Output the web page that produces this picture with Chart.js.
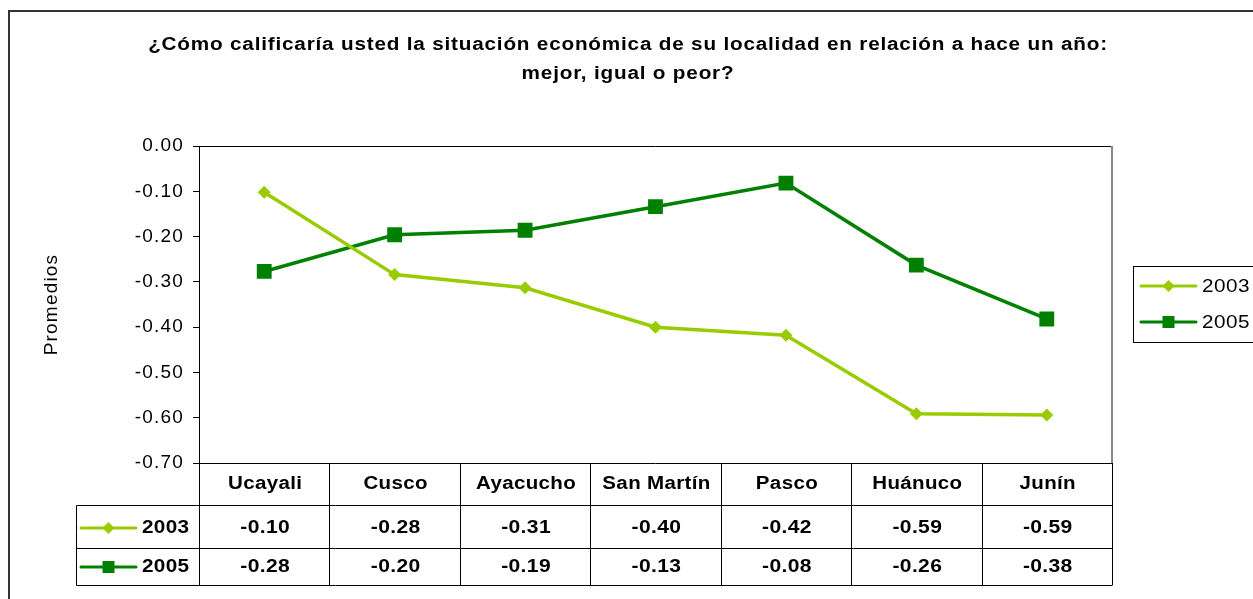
<!DOCTYPE html>
<html>
<head>
<meta charset="utf-8">
<script src="https://cdn.jsdelivr.net/npm/chart.js@4"></script>
<style>
  html, body { margin: 0; padding: 0; background: #fff; }
  #wrap { width: 1253px; height: 599px; }
</style>
</head>
<body>
<div id="wrap"><canvas id="lineCanvas" width="1253" height="599"></canvas></div>
<script>
// data
const regiones = ["Ucayali", "Cusco", "Ayacucho", "San Martín", "Pasco", "Huánuco", "Junín"];
const serie2003 = [-0.102, -0.284, -0.313, -0.400, -0.418, -0.591, -0.594];
const serie2005 = [-0.277, -0.196, -0.186, -0.134, -0.082, -0.263, -0.382];
const yTicks = [0, -0.1, -0.2, -0.3, -0.4, -0.5, -0.6, -0.7];

const verdeClaro = "#99CC00";
const verdeOscuro = "#008000";
const fuente = "'Liberation Sans', Arial, sans-serif";

// text a bit wider than the font, like the original rendering
function wideText(c, t, x, y, sx) {
    c.save();
    c.translate(x, y);
    c.scale(sx, 1);
    c.fillText(t, 0, 0);
    c.restore();
}

function sampleLine(c, x1, x2, y, color, marker) {
    c.save();
    c.strokeStyle = color;
    c.fillStyle = color;
    c.lineWidth = 3;
    c.lineCap = "round";
    c.beginPath(); c.moveTo(x1, y); c.lineTo(x2, y); c.stroke();
    const mx = (x1 + x2) / 2;
    if (marker === "diamond") {
        c.beginPath();
        c.moveTo(mx, y - 6); c.lineTo(mx + 6, y); c.lineTo(mx, y + 6); c.lineTo(mx - 6, y);
        c.closePath(); c.fill();
    } else {
        c.fillRect(mx - 6, y - 6, 12, 12);
    }
    c.restore();
}

const extras = {
    id: "extras",
    beforeDraw(chart) {
        const c = chart.ctx;
        c.save();
        c.fillStyle = "#fff";
        c.fillRect(0, 0, chart.width, chart.height);
        // outer frame
        c.strokeStyle = "#333";
        c.lineWidth = 2;
        c.beginPath(); c.moveTo(9, 599); c.lineTo(9, 11); c.lineTo(1253, 11); c.stroke();
        // title
        c.fillStyle = "#000";
        c.font = "bold 18px " + fuente;
        c.letterSpacing = "0.7px";
        c.textAlign = "center";
        c.textBaseline = "middle";
        wideText(c, "¿Cómo calificaría usted la situación económica de su localidad en relación a hace un año:", 628, 45, 1.15);
        wideText(c, "mejor, igual o peor?", 628, 74, 1.15);
        c.restore();
        // wider spacing for the axis text as well
        c.letterSpacing = "1.2px";
    },
    afterDraw(chart) {
        const c = chart.ctx;
        const a = chart.chartArea;
        const xs = chart.scales.x;
        const step = (a.right - a.left) / regiones.length;
        c.save();
        // plot frame
        c.lineWidth = 1;
        c.strokeStyle = "#000";
        c.beginPath(); c.moveTo(a.left, a.top + 0.5); c.lineTo(a.right, a.top + 0.5); c.stroke();
        c.strokeStyle = "#888";
        c.lineWidth = 2;
        c.beginPath(); c.moveTo(a.right, a.top); c.lineTo(a.right, a.bottom); c.stroke();

        // data table
        const rows = [a.bottom, 505.5, 548.5, 585.5];
        const tLeft = 76.5;
        c.strokeStyle = "#000";
        c.lineWidth = 1;
        c.beginPath();
        c.moveTo(a.left, rows[0] + 0.5); c.lineTo(a.right, rows[0] + 0.5);
        c.moveTo(tLeft, rows[1]); c.lineTo(a.right, rows[1]);
        c.moveTo(tLeft, rows[2]); c.lineTo(a.right, rows[2]);
        c.moveTo(tLeft, rows[3]); c.lineTo(a.right, rows[3]);
        c.moveTo(tLeft, rows[1]); c.lineTo(tLeft, rows[3]);
        for (let i = 0; i <= regiones.length; i++) {
            const x = Math.round(a.left + i * step) + 0.5;
            c.moveTo(x, rows[0]); c.lineTo(x, rows[3]);
        }
        c.stroke();

        c.fillStyle = "#000";
        c.font = "bold 18px " + fuente;
        c.letterSpacing = "0.3px";
        c.textAlign = "center";
        c.textBaseline = "middle";
        regiones.forEach(function (r, i) {
            const x = xs.getPixelForValue(i) + 1;
            wideText(c, r, x, 484, 1.14);
            wideText(c, serie2003[i].toFixed(2), x, 528, 1.17);
            wideText(c, serie2005[i].toFixed(2), x, 567, 1.17);
        });
        c.textAlign = "left";
        wideText(c, "2003", 142, 528, 1.15);
        wideText(c, "2005", 142, 567, 1.15);
        sampleLine(c, 81, 136, 528, verdeClaro, "diamond");
        sampleLine(c, 81, 136, 567, verdeOscuro, "square");

        // legend box
        c.strokeStyle = "#000";
        c.lineWidth = 1;
        c.strokeRect(1133.5, 266.5, 130, 76);
        sampleLine(c, 1141, 1196, 286, verdeClaro, "diamond");
        sampleLine(c, 1141, 1196, 322, verdeOscuro, "square");
        c.font = "18px " + fuente;
        c.letterSpacing = "0.4px";
        c.fillStyle = "#000";
        wideText(c, "2003", 1202, 287, 1.15);
        wideText(c, "2005", 1202, 323, 1.15);
        c.restore();
    }
};

const ctx = document.getElementById("lineCanvas");

var lineChart = new Chart(ctx, {
    type: 'line',
    data: {
        labels: regiones,
        datasets: [
            {
                label: "2003",
                data: serie2003,
                borderColor: verdeClaro,
                backgroundColor: verdeClaro,
                borderWidth: 3.5,
                pointStyle: 'rectRot',
                pointRadius: 6.5,
                pointBorderWidth: 0,
                tension: 0
            },
            {
                label: "2005",
                data: serie2005,
                borderColor: verdeOscuro,
                backgroundColor: verdeOscuro,
                borderWidth: 3.5,
                pointStyle: 'rect',
                pointRadius: 10.5,
                pointBorderWidth: 0,
                tension: 0
            }
        ]
    },
    options: {
        responsive: false,
        animation: false,
        layout: {
            padding: { left: 0, right: 141, top: 146, bottom: 136 }
        },
        plugins: {
            legend: { display: false },
            title: { display: false },
            tooltip: { enabled: false }
        },
        scales: {
            x: {
                display: false,
                offset: true
            },
            y: {
                min: -0.7,
                max: 0,
                afterFit: function (scale) { scale.width = 199; },
                afterBuildTicks: function (scale) {
                    scale.ticks = yTicks.map(function (v) { return { value: v }; });
                },
                ticks: {
                    color: "#000",
                    font: { family: fuente, size: 19 },
                    padding: 9,
                    callback: function (v) { return v.toFixed(2); }
                },
                grid: {
                    drawOnChartArea: false,
                    tickLength: 6,
                    color: "#000"
                },
                border: { color: "#000", width: 1 },
                title: {
                    display: true,
                    text: "Promedios",
                    color: "#000",
                    font: { family: fuente, size: 19 },
                    padding: { top: 40, bottom: 0 }
                }
            }
        }
    },
    plugins: [extras]
});
</script>
</body>
</html>
